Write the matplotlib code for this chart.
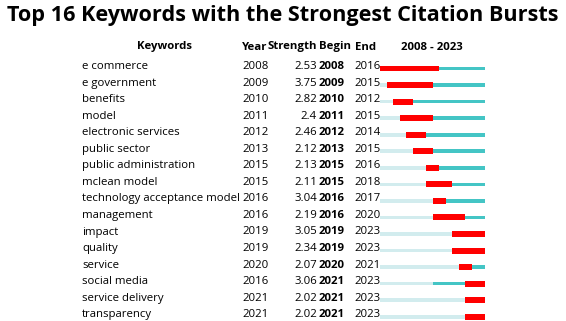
import matplotlib.pyplot as plt

plt.rcParams['font.family'] = ['Open Sans', 'DejaVu Sans']

keywords = ['e commerce', 'e government', 'benefits', 'model', 'electronic services',
            'public sector', 'public administration', 'mclean model',
            'technology acceptance model', 'management', 'impact', 'quality',
            'service', 'social media', 'service delivery', 'transparency']
years = [2008, 2009, 2010, 2011, 2012, 2013, 2015, 2015, 2016, 2016, 2019, 2019,
         2020, 2016, 2021, 2021]
strengths = ['2.53', '3.75', '2.82', '2.4', '2.46', '2.12', '2.13', '2.11', '3.04',
             '2.19', '3.05', '2.34', '2.07', '3.06', '2.02', '2.02']
begins = [2008, 2009, 2010, 2011, 2012, 2013, 2015, 2015, 2016, 2016, 2019, 2019,
          2020, 2021, 2021, 2021]
ends = [2016, 2015, 2012, 2015, 2014, 2015, 2016, 2018, 2017, 2020, 2023, 2023,
        2021, 2023, 2023, 2023]
start_year, end_year = 2008, 2023

W, H = 566, 321
fig = plt.figure(figsize=(W / 100, H / 100), dpi=100)

# text layer in pixel coordinates
ax = fig.add_axes([0, 0, 1, 1])
ax.set_xlim(0, W)
ax.set_ylim(H, 0)
ax.axis('off')

row0, step = 66.5, 16.55
fs = 8.2

ax.text(283, 16, 'Top 16 Keywords with the Strongest Citation Bursts', ha='center',
        va='center', fontsize=15.55, fontweight='bold')
hy = 47
ax.text(165, hy, 'Keywords', ha='center', va='center', fontsize=fs, fontweight='bold')
ax.text(242, hy, 'Year', ha='left', va='center', fontsize=fs, fontweight='bold')
ax.text(268, hy, 'Strength', ha='left', va='center', fontsize=fs, fontweight='bold')
ax.text(319, hy, 'Begin', ha='left', va='center', fontsize=fs, fontweight='bold')
ax.text(355, hy, 'End', ha='left', va='center', fontsize=fs, fontweight='bold')
ax.text(432, hy, f'{start_year} - {end_year}', ha='center', va='center', fontsize=fs,
        fontweight='bold')

for i, kw in enumerate(keywords):
    y = row0 + i * step
    ax.text(82, y, kw, ha='left', va='center', fontsize=fs)
    ax.text(242, y, str(years[i]), ha='left', va='center', fontsize=fs)
    ax.text(317, y, strengths[i], ha='right', va='center', fontsize=fs)
    ax.text(319, y, str(begins[i]), ha='left', va='center', fontsize=fs, fontweight='bold')
    ax.text(354, y, str(ends[i]), ha='left', va='center', fontsize=fs)

# timeline axes
x0, x1 = 380, 485
y_top = row0 - step / 2 + 2
y_bot = row0 + 15 * step + step / 2 + 2
tax = fig.add_axes([x0 / W, 1 - y_bot / H, (x1 - x0) / W, (y_bot - y_top) / H])
tax.set_xlim(start_year, end_year + 1)
tax.set_ylim(len(keywords) - 0.5, -0.5)
tax.axis('off')

for i in range(len(keywords)):
    tax.barh(i, years[i] - start_year, left=start_year, height=0.22, color='#d2ecee')
    tax.barh(i, end_year + 1 - years[i], left=years[i], height=0.22, color='#44c5c5')
    tax.barh(i, ends[i] + 1 - begins[i], left=begins[i], height=0.36, color='#ff0000')

fig.savefig('out.png', dpi=100)
